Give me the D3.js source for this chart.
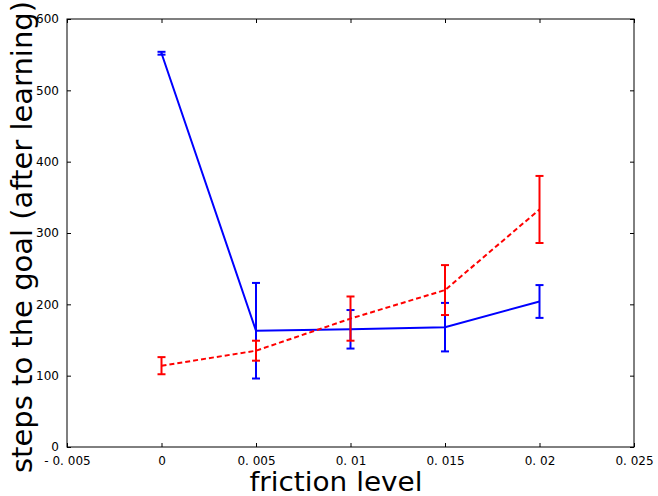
<!DOCTYPE html>
<html>
<head>
<meta charset="utf-8">
<script src="https://cdn.jsdelivr.net/npm/d3@7"></script>
<style>
    body { margin: 0; background: #fff; }
    text { font-family: "DejaVu Sans", sans-serif; }
</style>
</head>
<body>
<div id="chart"></div>
<script>
// friction levels on the x axis
var friction = [0, 0.005, 0.01, 0.015, 0.02];

// blue solid series: mean and error
var blueMean = [552, 163, 165, 168, 204];
var blueErr = [2, 67, 27, 34, 23];

// red dashed series: mean and error
var redMean = [114, 135, 180, 220, 333];
var redErr = [12, 14, 31, 35, 47];

var xTicks = [-0.005, 0, 0.005, 0.01, 0.015, 0.02, 0.025];
var xTickLabels = ['- 0. 005', '0', '0. 005', '0. 01', '0. 015', '0. 02', '0. 025'];
var yTicks = [0, 100, 200, 300, 400, 500, 600];

var W = 658, H = 496;
var margin = {top: 19, right: 24, bottom: 49, left: 67},
    width = W - margin.left - margin.right,
    height = H - margin.top - margin.bottom;

var x = d3.scaleLinear().domain([-0.005, 0.025]).range([0, width]);
var y = d3.scaleLinear().domain([0, 600]).range([height, 0]);

var svg = d3.select('#chart')
    .append('svg')
    .attr('width', W)
    .attr('height', H);

var g = svg.append('g')
    .attr('transform', 'translate(' + margin.left + ',' + margin.top + ')');

// ticks pointing inwards on every side
g.append('g')
    .attr('transform', 'translate(0,' + height + ')')
    .call(d3.axisBottom(x).tickValues(xTicks).tickSize(-4).tickPadding(9)
        .tickFormat(function (d, i) { return xTickLabels[i]; }));
g.append('g')
    .call(d3.axisTop(x).tickValues(xTicks).tickSize(-4).tickFormat(''));
g.append('g')
    .call(d3.axisLeft(y).tickValues(yTicks).tickSize(-4).tickPadding(8));
g.append('g')
    .attr('transform', 'translate(' + width + ',0)')
    .call(d3.axisRight(y).tickValues(yTicks).tickSize(-4).tickFormat(''));

g.selectAll('.domain').remove();
g.selectAll('.tick line').attr('stroke', '#000');
g.selectAll('.tick text')
    .attr('fill', '#000')
    .style('font-size', '12px');

g.append('rect')
    .attr('width', width)
    .attr('height', height)
    .attr('fill', 'none')
    .attr('stroke', '#000')
    .attr('stroke-width', 1);

function drawSeries(mean, err, color, dash) {
    var pts = friction.map(function (f, i) {
        return {x: f, y: mean[i], e: err[i]};
    });

    var line = d3.line()
        .x(function (d) { return x(d.x); })
        .y(function (d) { return y(d.y); });

    g.append('path')
        .datum(pts)
        .attr('d', line)
        .attr('fill', 'none')
        .attr('stroke', color)
        .attr('stroke-width', 2)
        .attr('stroke-dasharray', dash);

    var bars = g.append('g');
    pts.forEach(function (d) {
        var cx = x(d.x);
        bars.append('line')
            .attr('x1', cx).attr('x2', cx)
            .attr('y1', y(d.y - d.e)).attr('y2', y(d.y + d.e))
            .attr('stroke', color).attr('stroke-width', 2);
        [d.y - d.e, d.y + d.e].forEach(function (v) {
            bars.append('line')
                .attr('x1', cx - 4).attr('x2', cx + 4)
                .attr('y1', y(v)).attr('y2', y(v))
                .attr('stroke', color).attr('stroke-width', 2);
        });
    });
}

drawSeries(blueMean, blueErr, '#0000ff', null);
drawSeries(redMean, redErr, '#ff0000', '5,3');

// axis titles
svg.append('text')
    .attr('x', 336)
    .attr('y', 491)
    .attr('text-anchor', 'middle')
    .attr('textLength', 173)
    .attr('lengthAdjust', 'spacingAndGlyphs')
    .style('font-size', '26px')
    .text('friction level');

svg.append('text')
    .attr('transform', 'translate(32,237) rotate(-90)')
    .attr('text-anchor', 'middle')
    .attr('textLength', 472)
    .attr('lengthAdjust', 'spacingAndGlyphs')
    .style('font-size', '28px')
    .text('steps to the goal (after learning)');
</script>
</body>
</html>
